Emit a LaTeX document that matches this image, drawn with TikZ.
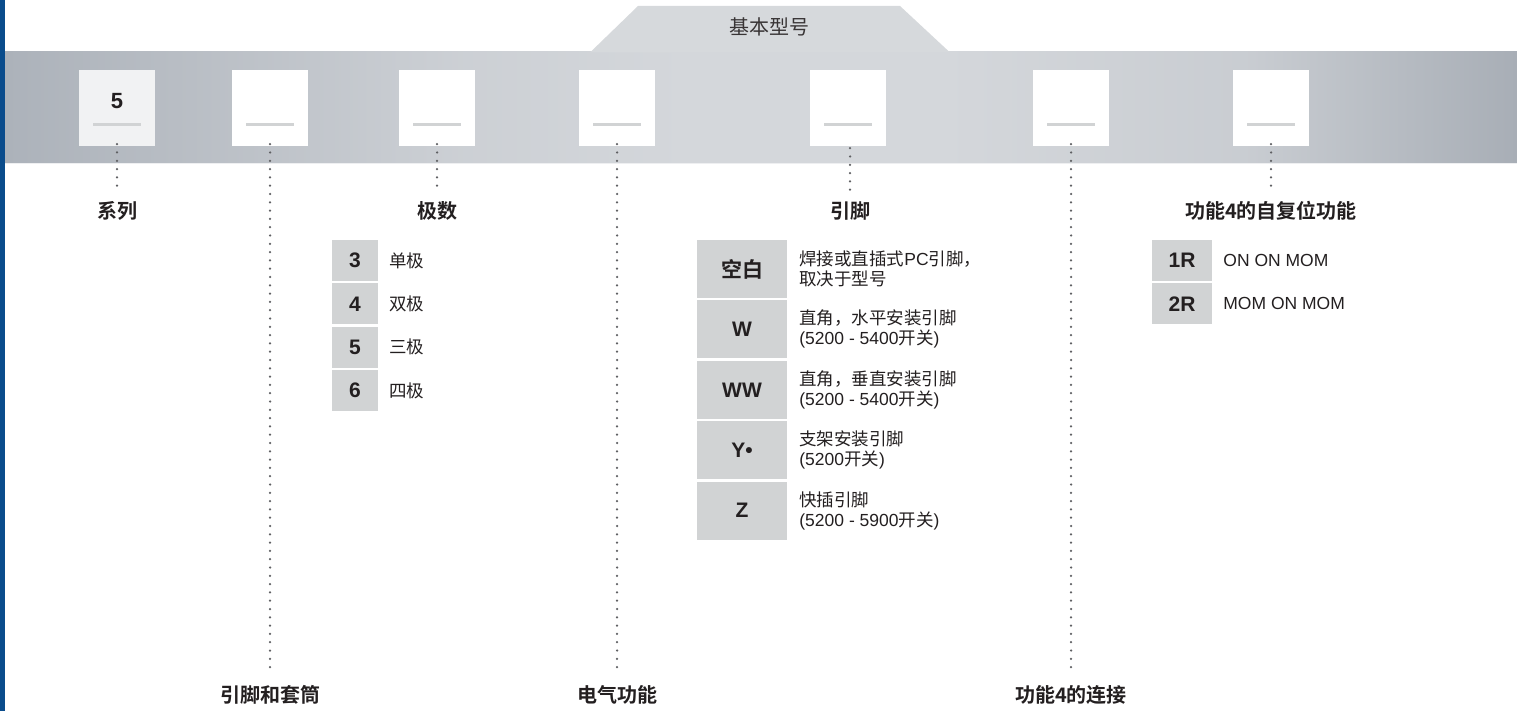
\documentclass[tikz,border=0pt]{standalone}
\usepackage{fontspec}
\setmainfont{Liberation Sans}
\newfontfamily\cjk{Noto Sans CJK SC}[BoldFont={Noto Sans CJK SC Bold}]
\usetikzlibrary{positioning}
\definecolor{barblue}{HTML}{0A4C8C}
\definecolor{bandedge}{HTML}{ACB2BA}
\definecolor{bandmid}{HTML}{D4D7DB}
\definecolor{bandright}{HTML}{A8AEB6}
\definecolor{tabgrey}{HTML}{D6D9DC}
\definecolor{cellgrey}{HTML}{D1D3D4}
\definecolor{slotgrey}{HTML}{F1F2F3}
\definecolor{inkdark}{HTML}{231F20}
\definecolor{dotgrey}{HTML}{5F6063}
\pgfdeclarehorizontalshading{metal}{100bp}{color(0bp)=(bandedge); color(25bp)=(bandedge); color(40bp)=(bandmid!80!bandedge); color(47.5bp)=(bandmid); color(56bp)=(bandmid); color(66bp)=(bandmid!75!bandright); color(75bp)=(bandright); color(100bp)=(bandright)}

\begin{document}
\begin{tikzpicture}[x=1pt, y=-1pt,
  slot/.style = {fill=white, minimum size=76pt, inner sep=0pt},
  rule/.style = {draw=cellgrey, line width=3pt},
  lead/.style = {draw=dotgrey, line width=2.5pt, line cap=round, dash pattern=on 0pt off 8.3pt},
  heading/.style = {font=\cjk\bfseries\fontsize{20}{22}\selectfont, text=inkdark, inner sep=0pt, text height=15pt, text depth=4pt},
  cell/.style = {fill=cellgrey, inner sep=0pt, text=inkdark, font=\bfseries\fontsize{21}{24}\selectfont},
  desc/.style = {anchor=west, align=left, inner sep=0pt, text=inkdark, font=\fontsize{17.5}{20}\selectfont}]
\useasboundingbox (0,0) rectangle (1517,711);

% band and tab
\fill[barblue] (0,0) rectangle (5,711);
\shade[shading=metal] (5,52) rectangle (1517,164);
\fill[tabgrey] (590,52.5) -- (638,6) -- (900,6) -- (950,52.5) -- cycle;
\draw[white!60!bandmid, line width=1pt] (5,164) -- (1517,164);
\node[font=\cjk\fontsize{20}{22}\selectfont, text=inkdark!90] (base) at (769,27) {基本型号};

% slots
\node[slot, fill=slotgrey] (s1) at (117,108) {};
\node[slot] (s2) at (270,108) {};
\node[slot] (s3) at (437,108) {};
\node[slot] (s4) at (617,108) {};
\node[slot] (s5) at (848,108) {};
\node[slot] (s6) at (1071,108) {};
\node[slot] (s7) at (1271,108) {};
\node[font=\bfseries\fontsize{22}{24}\selectfont, text=inkdark] (v1) at (117,101) {5};
\draw[rule] ([shift={(-24,17)}]s1.center) -- ++(48,0);
\draw[rule] ([shift={(-24,17)}]s2.center) -- ++(48,0);
\draw[rule] ([shift={(-24,17)}]s3.center) -- ++(48,0);
\draw[rule] ([shift={(-24,17)}]s4.center) -- ++(48,0);
\draw[rule] ([shift={(-24,17)}]s5.center) -- ++(48,0);
\draw[rule] ([shift={(-24,17)}]s6.center) -- ++(48,0);
\draw[rule] ([shift={(-24,17)}]s7.center) -- ++(48,0);

% headings
\node[heading] (t1) at (117,213) {系列};
\node[heading] (t2) at (270,697) {引脚和套筒};
\node[heading] (t3) at (437,213) {极数};
\node[heading] (t4) at (617,697) {电气功能};
\node[heading] (t5) at (850,213) {引脚};
\node[heading] (t6) at (1071,697) {功能4的连接};
\node[heading] (t7) at (1271,213) {功能4的自复位功能};

% leads
\draw[lead] ([yshift=2pt]s1.south) -- ([yshift=10pt]t1.north);
\draw[lead] ([yshift=2pt]s2.south) -- ([yshift=12pt]t2.north);
\draw[lead] ([yshift=2pt]s3.south) -- ([yshift=10pt]t3.north);
\draw[lead] ([yshift=2pt]s4.south) -- ([yshift=12pt]t4.north);
\draw[lead] ([shift={(2,2)}]s5.south) -- ([yshift=10pt]t5.north);
\draw[lead] ([yshift=2pt]s6.south) -- ([yshift=12pt]t6.north);
\draw[lead] ([yshift=2pt]s7.south) -- ([yshift=10pt]t7.north);

% poles
\node[cell, minimum width=46pt, minimum height=41pt] (p3) at (355,260.5) {3};
\node[cell, minimum width=46pt, minimum height=41pt] (p4) [below=2pt of p3] {4};
\node[cell, minimum width=46pt, minimum height=41pt] (p5) [below=2pt of p4] {5};
\node[cell, minimum width=46pt, minimum height=41pt] (p6) [below=2pt of p5] {6};
\node[desc] (d3) [right=11pt of p3] {\cjk 单极};
\node[desc] (d4) [right=11pt of p4] {\cjk 双极};
\node[desc] (d5) [right=11pt of p5] {\cjk 三极};
\node[desc] (d6) [right=11pt of p6] {\cjk 四极};

% pins
\node[cell, minimum width=90pt, minimum height=58pt] (pa) at (742,269) {\cjk 空白};
\node[cell, minimum width=90pt, minimum height=58pt] (pw) [below=2pt of pa] {W};
\node[cell, minimum width=90pt, minimum height=58pt] (pww) [below=2pt of pw] {WW};
\node[cell, minimum width=90pt, minimum height=58pt] (py) [below=2pt of pww] {Y•};
\node[cell, minimum width=90pt, minimum height=58pt] (pz) [below=2pt of py] {Z};
\node[desc] (da) [right=12pt of pa] {{\cjk 焊接或直插式}PC{\cjk 引脚，}\\{\cjk 取决于型号}};
\node[desc] (dw) [right=12pt of pw] {{\cjk 直角，水平安装引脚}\\(5200 - 5400{\cjk 开关})};
\node[desc] (dww) [right=12pt of pww] {{\cjk 直角，垂直安装引脚}\\(5200 - 5400{\cjk 开关})};
\node[desc] (dy) [right=12pt of py] {{\cjk 支架安装引脚}\\(5200{\cjk 开关})};
\node[desc] (dz) [right=12pt of pz] {{\cjk 快插引脚}\\(5200 - 5900{\cjk 开关})};

% self-return
\node[cell, minimum width=60pt, minimum height=41pt] (r1) at (1182,260.5) {1R};
\node[cell, minimum width=60pt, minimum height=41pt] (r2) [below=2pt of r1] {2R};
\node[desc] (e1) [right=11pt of r1] {ON ON MOM};
\node[desc] (e2) [right=11pt of r2] {MOM ON MOM};
\end{tikzpicture}
\end{document}
